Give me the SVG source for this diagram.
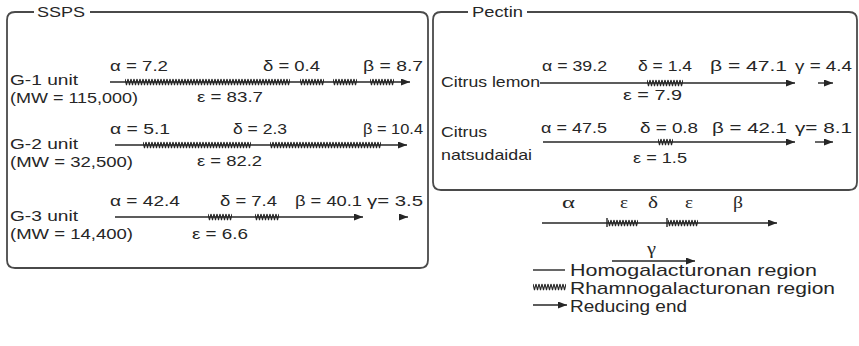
<svg xmlns="http://www.w3.org/2000/svg" width="859" height="346" viewBox="0 0 859 346">
<style>
text{font-family:"Liberation Sans",Arial,sans-serif;font-size:15px;fill:#262626}
.lg{font-size:17px}
.gk{font-family:"Liberation Serif","Times New Roman",serif;font-size:16px}
.box{fill:none;stroke:#4a4a4a;stroke-width:1.8}
.ln{stroke:#262626;stroke-width:1.4;fill:none}
.ar{marker-end:url(#ah)}
</style>
<defs>
<marker id="ah" markerUnits="userSpaceOnUse" markerWidth="9" markerHeight="7" refX="9" refY="3.5" orient="auto"><path d="M0,0 L9,3.5 L0,7 z" fill="#262626"/></marker>
<pattern id="rg" width="3" height="8" patternUnits="userSpaceOnUse"><path d="M0,1 L1.5,7 L3,1" fill="none" stroke="#262626" stroke-width="1.1"/></pattern>
</defs>
<g id="ssps">
<path class="box" d="M34,12 H15 Q7,12 7,20 V260 Q7,268 15,268 H420 Q428,268 428,260 V20 Q428,12 420,12 H90"/>
<text x="37" y="17" textLength="48" lengthAdjust="spacingAndGlyphs">SSPS</text>
</g>
<g id="pectin">
<path class="box" d="M468,12 H441 Q433,12 433,20 V182 Q433,190 441,190 H849 Q857,190 857,182 V20 Q857,12 849,12 H527"/>
<text x="472" y="17" textLength="51" lengthAdjust="spacingAndGlyphs">Pectin</text>
</g>
<g id="g1">
<text x="10" y="85" textLength="68" lengthAdjust="spacingAndGlyphs">G-1 unit</text>
<text x="10" y="103" textLength="128" lengthAdjust="spacingAndGlyphs">(MW = 115,000)</text>
<text x="110" y="71" textLength="58" lengthAdjust="spacingAndGlyphs">α = 7.2</text>
<text x="263" y="71" textLength="57" lengthAdjust="spacingAndGlyphs">δ = 0.4</text>
<text x="363" y="71" textLength="60" lengthAdjust="spacingAndGlyphs">β = 8.7</text>
<text x="197" y="102" textLength="66" lengthAdjust="spacingAndGlyphs">ε = 83.7</text>
</g>
<g id="g2">
<text x="10" y="149" textLength="68" lengthAdjust="spacingAndGlyphs">G-2 unit</text>
<text x="10" y="167" textLength="123" lengthAdjust="spacingAndGlyphs">(MW = 32,500)</text>
<text x="110" y="134" textLength="60" lengthAdjust="spacingAndGlyphs">α = 5.1</text>
<text x="233" y="134" textLength="54" lengthAdjust="spacingAndGlyphs">δ = 2.3</text>
<text x="363" y="134" textLength="60" lengthAdjust="spacingAndGlyphs">β = 10.4</text>
<text x="197" y="166" textLength="65" lengthAdjust="spacingAndGlyphs">ε = 82.2</text>
</g>
<g id="g3">
<text x="10" y="221" textLength="68" lengthAdjust="spacingAndGlyphs">G-3 unit</text>
<text x="10" y="239" textLength="123" lengthAdjust="spacingAndGlyphs">(MW = 14,400)</text>
<text x="110" y="206" textLength="70" lengthAdjust="spacingAndGlyphs">α = 42.4</text>
<text x="220" y="206" textLength="57" lengthAdjust="spacingAndGlyphs">δ = 7.4</text>
<text x="295" y="206" textLength="67" lengthAdjust="spacingAndGlyphs">β = 40.1</text>
<text x="367" y="206" textLength="56" lengthAdjust="spacingAndGlyphs">γ= 3.5</text>
<text x="192" y="239" textLength="56" lengthAdjust="spacingAndGlyphs">ε = 6.6</text>
</g>
<g id="lemon">
<text x="441" y="87" textLength="99" lengthAdjust="spacingAndGlyphs">Citrus lemon</text>
<text x="542" y="71" textLength="65" lengthAdjust="spacingAndGlyphs">α = 39.2</text>
<text x="638" y="71" textLength="54" lengthAdjust="spacingAndGlyphs">δ = 1.4</text>
<text x="710" y="71" textLength="77" lengthAdjust="spacingAndGlyphs">β = 47.1</text>
<text x="795" y="71" textLength="57" lengthAdjust="spacingAndGlyphs">γ = 4.4</text>
<text x="623" y="100" textLength="59" lengthAdjust="spacingAndGlyphs">ε = 7.9</text>
</g>
<g id="natsudaidai">
<text x="441" y="137" textLength="46" lengthAdjust="spacingAndGlyphs">Citrus</text>
<text x="441" y="160" textLength="91" lengthAdjust="spacingAndGlyphs">natsudaidai</text>
<text x="541" y="133" textLength="66" lengthAdjust="spacingAndGlyphs">α = 47.5</text>
<text x="640" y="133" textLength="58" lengthAdjust="spacingAndGlyphs">δ = 0.8</text>
<text x="712" y="133" textLength="75" lengthAdjust="spacingAndGlyphs">β = 42.1</text>
<text x="795" y="133" textLength="57" lengthAdjust="spacingAndGlyphs">γ= 8.1</text>
<text x="633" y="163" textLength="54" lengthAdjust="spacingAndGlyphs">ε = 1.5</text>
</g>
<g id="scheme">
<text class="gk" x="562" y="208" textLength="13" lengthAdjust="spacingAndGlyphs">α</text>
<text class="gk" x="620" y="208" textLength="8" lengthAdjust="spacingAndGlyphs">ε</text>
<text class="gk" x="648" y="208" textLength="10" lengthAdjust="spacingAndGlyphs">δ</text>
<text class="gk" x="685" y="208" textLength="8" lengthAdjust="spacingAndGlyphs">ε</text>
<text class="gk" x="733" y="208" textLength="10" lengthAdjust="spacingAndGlyphs">β</text>
<text class="gk" x="647" y="254" textLength="9" lengthAdjust="spacingAndGlyphs">γ</text>
</g>
<g id="legend">
<text class="lg" x="570" y="276" textLength="247" lengthAdjust="spacingAndGlyphs">Homogalacturonan region</text>
<text class="lg" x="570" y="294" textLength="265" lengthAdjust="spacingAndGlyphs">Rhamnogalacturonan region</text>
<text class="lg" x="570" y="312" textLength="117" lengthAdjust="spacingAndGlyphs">Reducing end</text>
</g>
<g id="connectors">
<path class="ln ar" d="M110,82 H410"/>
<g transform="translate(125,78)"><rect width="165" height="8" fill="url(#rg)"/></g>
<g transform="translate(300,78)"><rect width="24" height="8" fill="url(#rg)"/></g>
<g transform="translate(333,78)"><rect width="24" height="8" fill="url(#rg)"/></g>
<g transform="translate(370,78)"><rect width="24" height="8" fill="url(#rg)"/></g>
<path class="ln ar" d="M115,145 H407"/>
<g transform="translate(143,141)"><rect width="108" height="8" fill="url(#rg)"/></g>
<g transform="translate(270,141)"><rect width="111" height="8" fill="url(#rg)"/></g>
<path class="ln ar" d="M115,217 H363"/>
<g transform="translate(208,213)"><rect width="24" height="8" fill="url(#rg)"/></g>
<g transform="translate(255,213)"><rect width="24" height="8" fill="url(#rg)"/></g>
<path class="ln ar" d="M399,217 H408"/>
<path class="ln ar" d="M540,83 H795"/>
<g transform="translate(647,79)"><rect width="36" height="8" fill="url(#rg)"/></g>
<path class="ln ar" d="M818,83 H833"/>
<path class="ln ar" d="M543,142 H795"/>
<g transform="translate(658,138)"><rect width="15" height="8" fill="url(#rg)"/></g>
<path class="ln ar" d="M815,142 H833"/>
<path class="ln ar" d="M542,223 H777"/>
<path class="ln" d="M607,218 V227 M667,218 V227"/>
<g transform="translate(608,219)"><rect width="30" height="8" fill="url(#rg)"/></g>
<g transform="translate(668,219)"><rect width="30" height="8" fill="url(#rg)"/></g>
<path class="ln ar" d="M612,261 H695"/>
<path class="ln" d="M533,270 H565"/>
<g transform="translate(533,283)"><rect width="33" height="8" fill="url(#rg)"/></g>
<path class="ln ar" d="M533,305 H567"/>
</g>
</svg>
